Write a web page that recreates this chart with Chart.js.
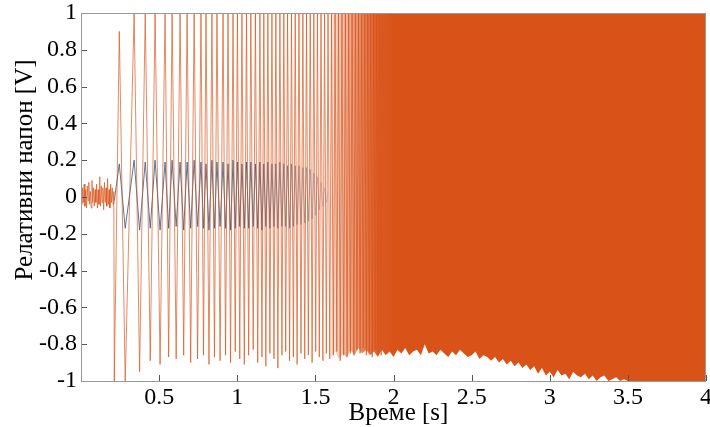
<!DOCTYPE html>
<html>
<head>
<meta charset="utf-8">
<script src="https://cdn.jsdelivr.net/npm/chart.js@4.4.0/dist/chart.umd.min.js"></script>
<style>
  body { margin: 0; background: #fff; }
  #probe { position: absolute; left: -1000px; top: 0; font-family: 'Liberation Serif'; font-size: 24px; }
</style>
</head>
<body>
<span id="probe">Време 0.5</span>
<canvas id="grafik" width="710" height="427"></canvas>
<script>
// noise before the oscillation starts
const noiseTimes = [0, 0.005, 0.01, 0.015, 0.02, 0.025, 0.03, 0.035, 0.04, 0.045, 0.05, 0.055, 0.06, 0.065, 0.07,
  0.075, 0.08, 0.085, 0.09, 0.095, 0.1, 0.105, 0.11, 0.115, 0.12, 0.125, 0.13, 0.135, 0.14, 0.145, 0.15,
  0.155, 0.16, 0.165, 0.17, 0.175, 0.18, 0.185, 0.19, 0.195, 0.2, 0.205, 0.21];
const noiseValues = [0.02, -0.04, 0.05, -0.03, 0.07, -0.05, 0.04, -0.06, 0.06, -0.02, 0.08, -0.04, 0.03, -0.06, 0.09,
  -0.03, 0.05, -0.05, 0.04, -0.03, 0.07, -0.06, 0.04, -0.04, 0.11, -0.05, 0.06, -0.03, 0.05, -0.07, 0.08,
  -0.03, 0.05, -0.05, 0.1, -0.04, 0.04, -0.06, 0.07, -0.03, 0.05, -0.04, 0.03];

// orange signal: peaks and troughs of each cycle
const peakTimes = [0.245, 0.340, 0.411, 0.474, 0.538, 0.583, 0.634, 0.679, 0.724, 0.768, 0.800, 0.838,
  0.870, 0.909, 0.941, 0.973, 1.001, 1.030, 1.059, 1.087, 1.116, 1.145, 1.170, 1.196, 1.222, 1.247,
  1.273, 1.298, 1.322, 1.347, 1.371, 1.395, 1.420, 1.443, 1.467, 1.490, 1.513, 1.536, 1.559, 1.581,
  1.603, 1.626, 1.648, 1.670, 1.692, 1.713, 1.735, 1.756, 1.776, 1.796, 1.816, 1.835, 1.854, 1.873,
  1.892, 1.911, 1.930];
const peakValues = [0.9, 1, 1, 1, 1, 1, 1, 1, 1, 1, 1, 1, 1, 1, 1, 1, 1, 1, 1, 1, 1, 1, 1, 1,
  1, 1, 1, 1, 1, 1, 1, 1, 1, 1, 1, 1, 1, 1, 1, 1, 1, 1, 1, 1, 1, 1, 1, 1, 1, 1, 1, 1, 1, 1,
  1, 1, 1];
const troughTimes = [0.213, 0.283, 0.375, 0.443, 0.506, 0.561, 0.609, 0.657, 0.702, 0.746, 0.784, 0.819,
  0.854, 0.890, 0.925, 0.957, 0.987, 1.016, 1.045, 1.073, 1.102, 1.131, 1.158, 1.183, 1.209, 1.235,
  1.260, 1.286, 1.310, 1.335, 1.359, 1.383, 1.408, 1.432, 1.455, 1.479, 1.502, 1.525, 1.548, 1.570,
  1.592, 1.615, 1.637, 1.659, 1.681, 1.703, 1.724, 1.746, 1.766, 1.786, 1.806, 1.826, 1.845, 1.864,
  1.883, 1.902, 1.921];
const troughValues = [-1, -1, -0.95, -0.89, -0.91, -0.87, -0.88, -0.86, -0.9, -0.88, -0.86, -0.91, -0.87, -0.89, -0.86, -0.9,
  -0.84, -0.88, -0.91, -0.86, -0.83, -0.9, -0.87, -0.92, -0.85, -0.88, -0.93, -0.86, -0.84, -0.89,
  -0.87, -0.91, -0.85, -0.88, -0.86, -0.9, -0.84, -0.87, -0.89, -0.85, -0.88, -0.86, -0.84, -0.89, -0.86, -0.87, -0.85, -0.86,
  -0.83, -0.85, -0.82, -0.86, -0.84, -0.87, -0.83, -0.85, -0.86];

// blue signal, same cycles, smaller amplitude, fades out around 1.5 s
const bluePeakValues = [0.18, 0.2, 0.19, 0.2, 0.19, 0.2, 0.19, 0.19, 0.2, 0.19, 0.18, 0.2, 0.19, 0.19, 0.18, 0.2,
  0.19, 0.18, 0.19, 0.19, 0.18, 0.19, 0.18, 0.19, 0.18, 0.18, 0.19, 0.18, 0.17, 0.18, 0.17, 0.17,
  0.16, 0.16, 0.15, 0.13, 0.11, 0.08, 0.05, 0.03];
const blueTroughValues = [-0.02, -0.17, -0.18, -0.17, -0.18, -0.17, -0.16, -0.18, -0.17, -0.16, -0.17, -0.18, -0.17,
  -0.16, -0.17, -0.18, -0.17, -0.16, -0.17, -0.17, -0.16, -0.17, -0.18, -0.16, -0.17, -0.16, -0.17,
  -0.16, -0.16, -0.17, -0.16, -0.15, -0.15, -0.14, -0.13, -0.12, -0.1, -0.07, -0.05, -0.03];

// lower edge of the dense part (upper edge stays at 1)
const envTimes = [1.6, 1.625, 1.65, 1.675, 1.7, 1.725, 1.75, 1.775, 1.8, 1.825, 1.85, 1.875, 1.9, 1.925, 1.95,
  1.975, 2.0, 2.025, 2.05, 2.075, 2.1, 2.125, 2.15, 2.175, 2.2, 2.225, 2.25, 2.275, 2.3, 2.325, 2.35,
  2.375, 2.4, 2.425, 2.45, 2.475, 2.5, 2.525, 2.55, 2.575, 2.6, 2.625, 2.65, 2.675, 2.7, 2.725, 2.75,
  2.775, 2.8, 2.825, 2.85, 2.875, 2.9, 2.925, 2.95, 2.975, 3.0, 3.025, 3.05, 3.075, 3.1, 3.125, 3.15,
  3.175, 3.2, 3.225, 3.25, 3.275, 3.3, 3.325, 3.35, 3.375, 3.4, 3.425, 3.45, 3.475, 3.5, 4];
const envLower = [-0.87, -0.84, -0.88, -0.85, -0.87, -0.83, -0.86, -0.82, -0.85, -0.83, -0.86, -0.84, -0.87, -0.83, -0.86,
  -0.84, -0.87, -0.83, -0.85, -0.82, -0.86, -0.84, -0.83, -0.86, -0.8, -0.85, -0.84, -0.86, -0.83, -0.85, -0.87,
  -0.84, -0.86, -0.83, -0.85, -0.87, -0.86, -0.84, -0.88, -0.86, -0.87, -0.89, -0.87, -0.9, -0.88, -0.91, -0.89,
  -0.92, -0.9, -0.93, -0.91, -0.94, -0.92, -0.96, -0.93, -0.97, -0.95, -0.98, -0.94, -0.97, -0.96, -0.99, -0.95,
  -0.97, -0.98, -0.96, -0.99, -0.97, -1, -0.98, -0.97, -1, -0.99, -0.98, -1, -0.99, -1, -1];

const xTickValues = [0.5, 1, 1.5, 2, 2.5, 3, 3.5, 4];
const xTickLabels = ['0.5', '1', '1.5', '2', '2.5', '3', '3.5', '4'];
const yTickValues = [-1, -0.8, -0.6, -0.4, -0.2, 0, 0.2, 0.4, 0.6, 0.8, 1];
const yTickLabels = ['-1', '-0.8', '-0.6', '-0.4', '-0.2', '0', '0.2', '0.4', '0.6', '0.8', '1'];

const xTitle = 'Време [s]';
const yTitle = 'Релативни напон [V]';

const fontFamily = '"Liberation Serif", "DejaVu Serif", serif';

// peaks and troughs merged into one line
function zigzag(vPeaks, vTroughs) {
  const pts = [];
  vPeaks.forEach((v, i) => pts.push({ x: peakTimes[i], y: v }));
  vTroughs.forEach((v, i) => pts.push({ x: troughTimes[i], y: v }));
  return pts.sort((a, b) => a.x - b.x);
}

const orangeData = noiseTimes.map((t, i) => ({ x: t, y: noiseValues[i] }))
  .concat(zigzag(peakValues, troughValues));
const blueData = zigzag(bluePeakValues, blueTroughValues);
const envData = envTimes.map((t, i) => ({ x: t, y: envLower[i] }));

// dense part gets solid gradually
function bandColor(c) {
  const area = c.chart.chartArea;
  if (!area) return '#D95319';
  const x = c.chart.scales.x;
  const g = c.chart.ctx.createLinearGradient(x.getPixelForValue(1.6), 0, x.getPixelForValue(2.0), 0);
  g.addColorStop(0, 'rgba(217,83,25,0.15)');
  g.addColorStop(0.4, 'rgba(217,83,25,0.6)');
  g.addColorStop(0.75, 'rgba(217,83,25,0.95)');
  g.addColorStop(1, 'rgba(217,83,25,1)');
  return g;
}

// blue gets blurred towards its end
function blueColor(c) {
  const area = c.chart.chartArea;
  if (!area) return 'rgba(60,95,140,0.85)';
  const x = c.chart.scales.x;
  const g = c.chart.ctx.createLinearGradient(x.getPixelForValue(1.15), 0, x.getPixelForValue(1.6), 0);
  g.addColorStop(0, 'rgba(60,95,140,0.85)');
  g.addColorStop(1, 'rgba(60,95,140,0.15)');
  return g;
}

// box, inward ticks and axis titles (MATLAB look)
const okvir = {
  id: 'okvir',
  afterDatasetsDraw(chart) {
    const { ctx, chartArea: a, scales: { x, y } } = chart;
    ctx.save();
    ctx.strokeStyle = '#555';
    ctx.lineWidth = 1;
    ctx.beginPath();
    xTickValues.forEach(v => {
      const px = Math.round(x.getPixelForValue(v)) + 0.5;
      ctx.moveTo(px, a.bottom);
      ctx.lineTo(px, a.bottom - 6);
    });
    yTickValues.forEach(v => {
      const py = Math.round(y.getPixelForValue(v)) + 0.5;
      ctx.moveTo(a.left, py);
      ctx.lineTo(a.left + 6, py);
    });
    ctx.stroke();
    ctx.strokeStyle = '#999';
    ctx.strokeRect(a.left + 0.5, a.top + 0.5, a.right - a.left - 1, a.bottom - a.top);
    ctx.restore();
  },
  afterDraw(chart) {
    const { ctx, chartArea: a } = chart;
    ctx.save();
    ctx.fillStyle = '#000';
    ctx.font = '25px ' + fontFamily;
    ctx.textAlign = 'center';
    ctx.textBaseline = 'alphabetic';
    ctx.fillText(xTitle, (a.left + a.right) / 2 + 5, 420);
    ctx.translate(32, 170);
    ctx.rotate(-Math.PI / 2);
    ctx.fillText(yTitle, 0, 0);
    ctx.restore();
  }
};

function nacrtaj() {
  const ctx = document.getElementById('grafik').getContext('2d');
  return new Chart(ctx, {
    type: 'line',
    data: {
      datasets: [
        {
          label: 'dense',
          data: envData,
          borderColor: 'rgba(217,83,25,0)',
          backgroundColor: bandColor,
          borderWidth: 0,
          fill: 'end',
          pointRadius: 0,
          order: 0
        },
        {
          label: 'orange',
          data: orangeData,
          borderColor: 'rgba(217,83,25,0.68)',
          borderWidth: 1,
          fill: false,
          pointRadius: 0,
          tension: 0,
          order: 1
        },
        {
          label: 'blue',
          data: blueData,
          borderColor: blueColor,
          borderWidth: 1,
          fill: false,
          pointRadius: 0,
          tension: 0,
          order: 2
        }
      ]
    },
    options: {
      responsive: false,
      devicePixelRatio: 1,
      animation: false,
      events: [],
      layout: { padding: 0 },
      plugins: { legend: { display: false }, tooltip: { enabled: false } },
      scales: {
        x: {
          type: 'linear',
          min: 0,
          max: 4,
          afterBuildTicks: scale => { scale.ticks = xTickValues.map(v => ({ value: v })); },
          afterFit: scale => { scale.height = 46; scale.paddingLeft = 0; scale.paddingRight = 4; },
          grid: { display: false, drawTicks: false },
          border: { display: false },
          ticks: {
            autoSkip: false,
            maxRotation: 0,
            padding: 2,
            color: '#000',
            font: { family: fontFamily, size: 24 },
            callback: (v, i) => xTickLabels[i]
          }
        },
        y: {
          type: 'linear',
          min: -1,
          max: 1,
          afterBuildTicks: scale => { scale.ticks = yTickValues.map(v => ({ value: v })); },
          afterFit: scale => { scale.width = 81; scale.paddingTop = 13; scale.paddingBottom = 0; },
          grid: { display: false, drawTicks: false },
          border: { display: false },
          ticks: {
            autoSkip: false,
            padding: 4,
            color: '#000',
            font: { family: fontFamily, size: 24 },
            callback: (v, i) => yTickLabels[i]
          }
        }
      }
    },
    plugins: [okvir]
  });
}

let grafik = null;
document.fonts.load('24px "Liberation Serif"', 'Време 0.5').then(() => { grafik = nacrtaj(); }, () => { grafik = nacrtaj(); });
</script>
</body>
</html>
